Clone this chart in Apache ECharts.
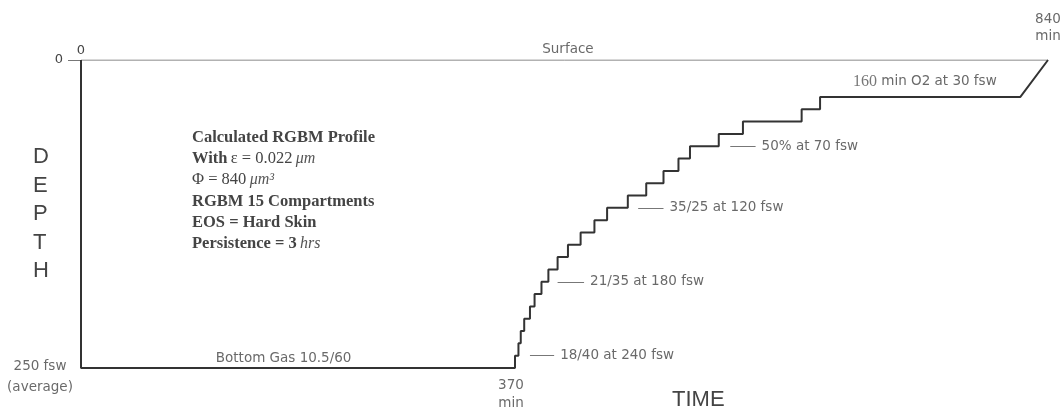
<!DOCTYPE html>
<html><head><meta charset="utf-8">
<script src="https://cdn.jsdelivr.net/npm/echarts@6/dist/echarts.min.js"></script>
<style>html,body{margin:0;padding:0;background:#fff}#c{width:1062px;height:414px}</style>
</head><body><div id="c"></div>
<script>
// Dive profile values (time in min, depth in fsw)
const bottomDepth = 250;
const bottomEnd = 377;
const surfaceTime = 840;
const stopDepths = [240,230,220,210,200,190,180,170,160,150,140,130,120,110,100,90,80,70,60,50,40,30];
const stopEnds   = [380,382,385,390,394,400,406,414,423,434,446,457,475,491,506,519,529,554,575,626,642,816];
// gas switch annotations
const gasLabels = ['18/40 at 240 fsw','21/35 at 180 fsw','35/25 at 120 fsw','50% at 70 fsw'];
const gasDepths = [240,180,120,70];
const gasLeaderStart = [390,414,484,564];
const gasLeaderEnd   = [411,437,506,586];

const SANS = "'DejaVu Sans', 'Liberation Sans', sans-serif";
const SERIF = "'Liberation Serif', 'Times New Roman', serif";

// build step profile from arrays
const profile = [[0,0],[0,bottomDepth],[bottomEnd,bottomDepth]];
let t = bottomEnd;
for (let i = 0; i < stopDepths.length; i++) {
  profile.push([t, stopDepths[i]]);
  profile.push([stopEnds[i], stopDepths[i]]);
  t = stopEnds[i];
}
profile.push([surfaceTime, 0]);

const txt = {color:'#444', fontFamily:SANS, fontSize:13.5};
const annos = [
  {value:[423,0], label:Object.assign({show:true, position:'top', distance:4, formatter:'Surface'}, txt)},
  {value:[176,bottomDepth], label:Object.assign({show:true, position:'top', distance:3, formatter:'Bottom Gas 10.5/60'}, txt)},
  {value:[733,30], label:Object.assign({show:true, position:'top', distance:7,
     formatter:'{s|160} min O2 at 30 fsw', rich:{s:{fontFamily:SERIF, fontSize:16, color:'#555'}}}, txt)},
  {value:[surfaceTime,0], label:Object.assign({show:true, position:'top', distance:15, lineHeight:17, formatter:'840\nmin'}, txt)},
  {value:[bottomEnd,bottomDepth], label:Object.assign({show:true, position:'bottom', distance:8, lineHeight:18, offset:[-4,0], formatter:'370\nmin'}, txt)},
  {value:[0,bottomDepth], label:Object.assign({show:true, position:'left', distance:12, lineHeight:21, align:'center', offset:[-29,9], formatter:'250 fsw\n(average)'}, txt)}
];
gasLabels.forEach((s,i)=>{
  annos.push({value:[gasLeaderEnd[i], gasDepths[i]], label:Object.assign({show:true, position:'right', distance:6, formatter:s}, txt)});
});

const chart = echarts.init(document.getElementById('c'), null, {renderer:'canvas'});
chart.setOption({
  animation:false,
  backgroundColor:'#fff',
  grid:{left:81, right:14, top:60, bottom:46, containLabel:false},
  xAxis:{type:'value', min:0, max:surfaceTime, position:'top',
    axisLine:{show:false}, splitLine:{show:false}, axisTick:{show:false},
    axisLabel:{customValues:[0], margin:3, color:'#444', fontFamily:SANS, fontSize:13}},
  yAxis:{type:'value', inverse:true, min:0, max:bottomDepth,
    axisLine:{show:false}, splitLine:{show:false},
    axisTick:{show:true, customValues:[0], length:13, lineStyle:{color:'#777'}},
    axisLabel:{customValues:[0], margin:18, color:'#444', fontFamily:SANS, fontSize:13}},
  graphic:[
    {type:'text', left:192, top:129, style:{
      text:'{b|Calculated RGBM Profile}\n{b|With} {r|ε = 0.022} {i|μm}\n{r|Φ = 840} {i|μm³}\n{b|RGBM 15 Compartments}\n{b|EOS = Hard Skin}\n{b|Persistence = 3} {i|hrs}',
      rich:{
        b:{fontFamily:SERIF, fontWeight:'bold', fontSize:16.5, fill:'#444', lineHeight:21.3},
        r:{fontFamily:SERIF, fontSize:16.5, fill:'#444', lineHeight:21.3},
        i:{fontFamily:SERIF, fontStyle:'italic', fontSize:16, fill:'#555', lineHeight:21.3}
      }}},
    {type:'text', left:33, top:143, style:{text:'D\nE\nP\nT\nH', fontFamily:"'Liberation Sans', Arial, sans-serif", fontSize:22, fill:'#444', lineHeight:28.5, align:'center'}},
    {type:'text', left:672, top:389, style:{text:'TIME', fontFamily:"'Liberation Sans', Arial, sans-serif", fontSize:22, fill:'#444'}}
  ],
  series:[
    {type:'line', data:[[0,0],[surfaceTime,0]], symbol:'none', silent:true,
     lineStyle:{color:'#666', width:1}, z:2},
    {type:'line', data:profile, symbol:'none', silent:true,
     lineStyle:{color:'#333', width:2}, z:3},
    {type:'scatter', data:annos, symbolSize:0, silent:true, z:4,
     markLine:{silent:true, symbol:['none','none'], label:{show:false},
       lineStyle:{color:'#777', width:1, type:'solid'},
       data:gasDepths.map((d,i)=>[{coord:[gasLeaderStart[i], d]},{coord:[gasLeaderEnd[i], d]}])}}
  ]
});
</script></body></html>
